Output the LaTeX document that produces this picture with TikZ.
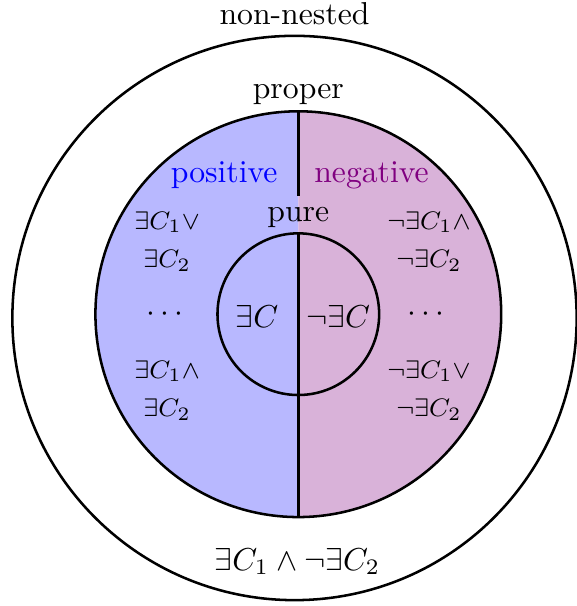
\documentclass[tikz,border=0pt]{standalone}
\usepackage{amsmath,amssymb}
\usetikzlibrary{positioning}
\begin{document}
\begin{tikzpicture}[
  x=1pt, y=1pt,
  ring/.style={draw, circle, thick, inner sep=0pt},
  small/.style={font=\footnotesize, align=center}
]
\useasboundingbox (-94.1,-92.05) rectangle (87.6,99.1);
% coloured halves
\fill[blue!28]   (0,64) arc[start angle=90, end angle=270, radius=64pt] -- cycle;
\fill[violet!30] (0,-64) arc[start angle=-90, end angle=90, radius=64pt] -- cycle;
% circles
\node[ring, minimum size=128pt] (mid)   at (0,0) {};
\node[ring, minimum size=51pt]  (inner) at (0,0) {};
\node[ring, minimum size=178pt] (outer) at (-1.2,-1.2) {};
\node[above=-0.6pt of outer] (nonnested) {non-nested};
\node[above=-1.8pt of mid]   (proper) {proper};
\node[above=-2pt of inner]   (pure) {pure};
\draw[thick] (mid.north) -- (pure.north);
\draw[thick] (inner.north) -- (mid.south);
% labels
\node[text=blue]   (pos) at (-23.4,43.9) {positive};
\node[text=violet] (neg) at (23.1,43.9)  {negative};
\node (ex)  at (-13,-0.6) {$\exists C$};
\node (nex) at (12.6,-0.6) {$\neg\exists C$};
\node (ldots) at (-41.3,0) {$\cdots$};
\node (rdots) at (41,0)    {$\cdots$};
\node[small] (lor)  at (-41.4,23)  {$\exists C_1\lor$\\[2.6pt]$\exists C_2$};
\node[small] (land) at (-41.4,-24) {$\exists C_1\land$\\[2.6pt]$\exists C_2$};
\node[small] (nland) at (41.2,23)  {$\neg\exists C_1\land$\\[2.6pt]$\neg\exists C_2$};
\node[small] (nlor)  at (41.2,-24) {$\neg\exists C_1\lor$\\[2.6pt]$\neg\exists C_2$};
\node (mixed) at (-0.3,-78) {$\exists C_1 \land \neg\exists C_2$};
\end{tikzpicture}
\end{document}
